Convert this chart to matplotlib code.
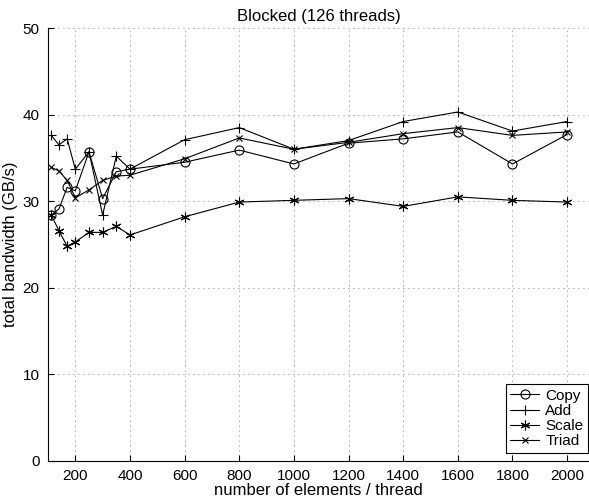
import numpy as np
import matplotlib
matplotlib.use('Agg')
import matplotlib.pyplot as plt

plt.rcParams['font.family'] = ['Liberation Sans', 'DejaVu Sans']

# elements per thread
n = [112, 140, 170, 200, 250, 300, 350, 400, 600, 800, 1000, 1200, 1400, 1600, 1800, 2000]

# bandwidth in GB/s
copy = [28.4, 29.1, 31.6, 31.2, 35.7, 30.3, 33.4, 33.7, 34.5, 35.9, 34.3, 36.7, 37.2, 38.0, 34.3, 37.7]
add = [37.6, 36.5, 37.2, 33.7, 35.7, 28.4, 35.2, 33.7, 37.1, 38.5, 36.0, 37.0, 39.2, 40.3, 38.1, 39.2]
scale = [28.4, 26.6, 24.8, 25.3, 26.4, 26.4, 27.1, 26.1, 28.2, 29.9, 30.1, 30.3, 29.4, 30.5, 30.1, 29.9]
triad = [33.9, 33.5, 32.4, 30.4, 31.3, 32.4, 32.9, 33.0, 34.9, 37.3, 36.0, 36.8, 37.8, 38.5, 37.6, 38.0]

fig = plt.figure(figsize=(5.89, 5.01), dpi=100)
ax = fig.add_axes([48 / 589, 40 / 501, 541 / 589, 433 / 501])

kw = dict(color='black', lw=0.8, mfc='none', mec='black', mew=0.8)
ax.plot(n, copy, marker='o', ms=6.5, label='Copy', **kw)
ax.plot(n, add, marker='+', ms=7, label='Add', **kw)
ax.plot(n, scale, marker=(6, 2, 0), ms=7, label='Scale', **kw)
ax.plot(n, triad, marker='x', ms=5, label='Triad', **kw)

ax.set_xlim(100, 2080)
ax.set_ylim(0, 50)
ax.set_xticks(np.arange(200, 2001, 200))
ax.set_yticks(np.arange(0, 51, 10))
ax.grid(True, linestyle=(0, (1, 5)), color='#555555', lw=0.6)
ax.spines['top'].set_visible(False)
ax.spines['right'].set_visible(False)
ax.tick_params(direction='in', length=4, labelsize=11, pad=6)

ax.set_title('Blocked (126 threads)', fontsize=12, pad=5)
ax.set_xlabel('number of elements / thread', fontsize=12, labelpad=0)
ax.set_ylabel('total bandwidth (GB/s)', fontsize=12, labelpad=3)

leg = ax.legend(loc='lower right', bbox_to_anchor=(588 / 589, 48 / 501),
                bbox_transform=fig.transFigure, borderaxespad=0,
                fontsize=11, fancybox=False, framealpha=1, edgecolor='black',
                handlelength=1.9, handletextpad=0.4, labelspacing=0.08, borderpad=0.3)
leg.get_frame().set_linewidth(0.8)

fig.savefig('out.png', dpi=100)
